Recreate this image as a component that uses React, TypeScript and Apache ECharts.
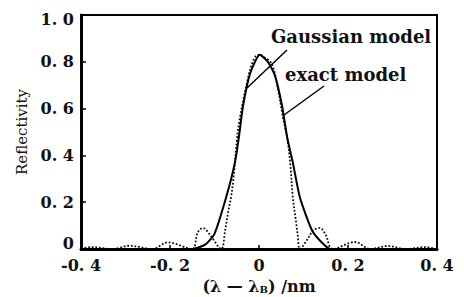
import React, { useEffect, useRef } from "react";
import * as echarts from "echarts";

// Gaussian model (solid line)
const gaussX = [-0.4, -0.2, -0.15, -0.12, -0.1, -0.074, -0.054, -0.045, -0.036, -0.02, 0.002, 0.02, 0.036, 0.052, 0.063, 0.076, 0.092, 0.119, 0.14, 0.16, 0.2, 0.4];
const gaussY = [0, 0, 0, 0.02, 0.065, 0.22, 0.37, 0.48, 0.61, 0.75, 0.83, 0.8, 0.74, 0.61, 0.48, 0.37, 0.22, 0.08, 0.03, 0, 0, 0];

// exact model (dotted line)
const exactX = [-0.4, -0.375, -0.33, -0.29, -0.24, -0.205, -0.15, -0.138, -0.126, -0.11, -0.085, -0.076, -0.07, -0.063, -0.058, -0.049, -0.043, -0.027, -0.016, -0.002, 0.012, 0.029, 0.043, 0.054, 0.063, 0.07, 0.076, 0.083, 0.087, 0.092, 0.11, 0.122, 0.137, 0.15, 0.165, 0.216, 0.25, 0.29, 0.33, 0.373, 0.4];
const exactY = [0.002, 0.008, 0, 0.014, 0, 0.028, 0, 0.07, 0.09, 0.06, 0, 0.08, 0.15, 0.22, 0.29, 0.48, 0.56, 0.71, 0.79, 0.83, 0.82, 0.79, 0.68, 0.56, 0.48, 0.37, 0.22, 0.12, 0.06, 0, 0.045, 0.08, 0.09, 0.06, 0, 0.03, 0, 0.013, 0, 0.008, 0];

const xTicks = [-0.4, -0.2, 0, 0.2, 0.4];
const yTicks = [0, 0.2, 0.4, 0.6, 0.8, 1.0];
const labelGauss = "Gaussian model";
const labelExact = "exact model";
const xName = "(λ — λ{s|B}) /nm";
const yName = "Reflectivity";

const fmt = (v: number) => {
  if (Math.abs(v) < 1e-9) return "0";
  const s = Math.abs(v).toFixed(1).replace(".", ". ");
  return v < 0 ? "-" + s : s;
};

const FONT = "DejaVu Serif";

export default function App() {
  const ref = useRef<HTMLDivElement>(null);
  useEffect(() => {
    if (!ref.current) return;
    const chart = echarts.init(ref.current, null, { renderer: "svg" });
    const yLabStyle = { fontFamily: FONT, fontWeight: "bold", fontSize: 16, color: "#111" };
    chart.setOption({
      animation: false,
      backgroundColor: "#fff",
      grid: {
        left: 81,
        right: 27,
        top: 15,
        bottom: 48,
        show: true,
        borderColor: "#000",
        borderWidth: 2,
        containLabel: false,
        outerBoundsMode: "none",
      },
      xAxis: {
        type: "value",
        min: -0.4,
        max: 0.4,
        interval: 0.2,
        axisLine: { onZero: false, lineStyle: { color: "#000", width: 3 } },
        axisTick: { inside: true, length: 4, lineStyle: { color: "#000", width: 1.5 } },
        splitLine: { show: false },
        axisLabel: {
          formatter: (v: number) => fmt(v),
          color: "#111",
          fontFamily: FONT,
          fontWeight: "bold",
          fontSize: 16,
          margin: 8,
          showMinLabel: true,
          showMaxLabel: true,
        },
        name: xName,
        nameLocation: "middle",
        nameGap: 29,
        nameTextStyle: {
          color: "#111",
          fontFamily: FONT,
          fontWeight: "bold",
          fontSize: 16,
          rich: {
            s: { fontSize: 10, fontFamily: FONT, fontWeight: "bold", color: "#111", verticalAlign: "bottom", padding: [6, 0, 0, 0] },
          },
        },
      },
      yAxis: {
        type: "value",
        min: 0,
        max: 1,
        interval: 0.2,
        axisLine: { show: true, onZero: false, lineStyle: { color: "#000", width: 3 } },
        axisTick: { show: true, inside: true, length: 5, lineStyle: { color: "#000", width: 1.5 } },
        splitLine: { show: false },
        axisLabel: {
          formatter: (v: number) => {
            if (Math.abs(v) < 1e-9) return "{lo|" + fmt(v) + "}";
            if (Math.abs(v - 1) < 1e-9) return "{hi|" + fmt(v) + "}";
            return fmt(v);
          },
          color: "#111",
          fontFamily: FONT,
          fontWeight: "bold",
          fontSize: 16,
          margin: 7,
          rich: {
            lo: { ...yLabStyle, padding: [0, 0, 12, 0] },
            hi: { ...yLabStyle, padding: [8, 0, 0, 0] },
          },
        },
        name: yName,
        nameLocation: "middle",
        nameRotate: 90,
        nameGap: 50,
        nameTextStyle: { color: "#111", fontFamily: FONT, fontSize: 15 },
      },
      series: [
        {
          type: "line",
          name: labelGauss,
          data: gaussX.map((x, i) => [x, gaussY[i]]),
          smooth: 0.2,
          showSymbol: false,
          lineStyle: { color: "#000", width: 2 },
          z: 3,
        },
        {
          type: "line",
          name: labelExact,
          data: exactX.map((x, i) => [x, exactY[i]]),
          smooth: 0.35,
          showSymbol: false,
          lineStyle: { color: "#111", width: 1.8, type: [1.8, 1.8] },
          z: 2,
        },
      ],
      graphic: [
        {
          type: "text",
          x: 271,
          y: 36,
          style: {
            text: labelGauss,
            fontFamily: FONT,
            fontWeight: "bold",
            fontSize: 18,
            fill: "#111",
            textVerticalAlign: "middle",
          },
        },
        {
          type: "text",
          x: 285,
          y: 74,
          style: {
            text: labelExact,
            fontFamily: FONT,
            fontWeight: "bold",
            fontSize: 18,
            fill: "#111",
            textVerticalAlign: "middle",
          },
        },
        {
          type: "line",
          shape: { x1: 287, y1: 50, x2: 247, y2: 88 },
          style: { stroke: "#000", lineWidth: 1.5 },
        },
        {
          type: "line",
          shape: { x1: 324, y1: 86, x2: 284, y2: 115 },
          style: { stroke: "#000", lineWidth: 1.5 },
        },
      ],
    });
    return () => chart.dispose();
  }, []);
  return <div ref={ref} style={{ width: 464, height: 297, position: "absolute", left: 0, top: 0 }} />;
}
